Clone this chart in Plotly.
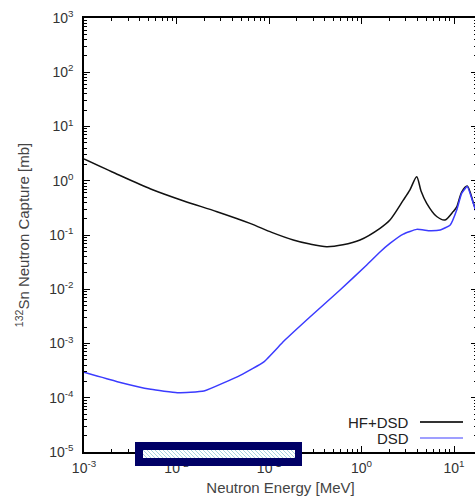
import plotly.graph_objects as go

# ---- data ----
energy_hf = [0.001, 0.00228, 0.00526, 0.012, 0.0274, 0.0624, 0.107, 0.183, 0.277,
             0.42, 0.63, 0.964, 1.585, 2.03, 2.83, 3.34, 3.95, 4.4, 5.07, 6.5,
             8.0, 9.8, 10.7, 12.1, 13.9, 16.2, 20.0]
sigma_hf = [2.52, 1.32, 0.705, 0.424, 0.269, 0.164, 0.112, 0.081, 0.068,
            0.0608, 0.066, 0.081, 0.133, 0.189, 0.44, 0.68, 1.19, 0.65, 0.384, 0.219,
            0.189, 0.27, 0.33, 0.62, 0.80, 0.39, 0.12]

energy_dsd = [0.001, 0.00229, 0.00527, 0.0102, 0.0198, 0.0494, 0.088, 0.145, 0.277,
              0.586, 1.14, 1.585, 2.03, 2.83, 3.95, 5.5, 7.1, 9.1, 10.7, 12.1,
              13.9, 16.2, 20.0]
sigma_dsd = [2.94e-4, 1.98e-4, 1.43e-4, 1.24e-4, 1.33e-4, 2.62e-4, 4.6e-4, 1.11e-3, 3.08e-3,
             9.7e-3, 0.028, 0.0487, 0.070, 0.104, 0.127, 0.12, 0.124, 0.153, 0.289, 0.587,
             0.78, 0.38, 0.12]

series_names = ["HF+DSD", "DSD"]
series_colors = ["#111111", "#3b3bff"]

x_tick_exps = [-3, -2, -1, 0, 1]
y_tick_exps = [-5, -4, -3, -2, -1, 0, 1, 2, 3]

FONT = "Liberation Sans, Arial, Helvetica, sans-serif"

def sup_labels(exps):
    return [f"10<sup>{e}</sup>" for e in exps]

def minor_vals(lo, hi):
    return [k * 10.0 ** n for n in range(lo, hi + 1) for k in range(2, 10)]

fig = go.Figure()
fig.add_trace(go.Scatter(x=energy_hf, y=sigma_hf, mode="lines", name=series_names[0],
                         line=dict(color=series_colors[0], width=1.5, shape="spline",
                                   smoothing=0.8), showlegend=False))
fig.add_trace(go.Scatter(x=energy_dsd, y=sigma_dsd, mode="lines", name=series_names[1],
                         line=dict(color=series_colors[1], width=1.5, shape="spline",
                                   smoothing=0.4), showlegend=False))

# figure slightly wider than the window so the right frame line falls just outside
W, H = 477, 502
L, T = 84, 18
plot_bottom = 452
B = H - plot_bottom
R = 0
pw = W - L - R
ph = H - T - B
decade_x = 92.5

x_max_exp = -3 + pw / decade_x

axis_common = dict(
    showgrid=False, zeroline=False, showline=True, linecolor="black", linewidth=1.5,
    ticks="inside", ticklen=6, tickwidth=1.2, tickcolor="black", mirror="allticks",
    tickfont=dict(family=FONT, size=14, color="#333333"),
)

fig.update_xaxes(
    type="log", range=[-3, x_max_exp], tickmode="array",
    tickvals=[10.0 ** e for e in x_tick_exps], ticktext=sup_labels(x_tick_exps),
    minor=dict(ticks="inside", ticklen=3, tickwidth=1, tickcolor="black",
               tickmode="array", tickvals=minor_vals(-3, 1), showgrid=False),
    ticklabelstandoff=2,
    title=dict(text="Neutron Energy [MeV]", standoff=8,
               font=dict(family=FONT, size=15, color="#444444")),
    **axis_common,
)
fig.update_yaxes(
    type="log", range=[-5, 3], tickmode="array",
    tickvals=[10.0 ** e for e in y_tick_exps], ticktext=sup_labels(y_tick_exps),
    minor=dict(ticks="inside", ticklen=3, tickwidth=1, tickcolor="black",
               tickmode="array", tickvals=minor_vals(-5, 2), showgrid=False),
    ticklabelstandoff=6,
    title=dict(text="<sup>132</sup>Sn Neutron Capture [mb]", standoff=16,
               font=dict(family=FONT, size=15, color="#444444")),
    **axis_common,
)

def px_x(p):
    return (p - L) / pw

def px_y(p):
    return (plot_bottom - p) / ph

shapes = []
# navy box over the lower axis
shapes.append(dict(type="rect", xref="paper", yref="paper", layer="above",
                   x0=px_x(135), x1=px_x(302), y0=px_y(466), y1=px_y(442),
                   fillcolor="#000066", line=dict(width=0)))
shapes.append(dict(type="rect", xref="paper", yref="paper", layer="above",
                   x0=px_x(143), x1=px_x(295), y0=px_y(458), y1=px_y(450),
                   fillcolor="white", line=dict(width=0)))
# hatching inside the box
ix0, ix1, iy0, iy1 = 143, 295, 450, 458
hh = iy1 - iy0
xs = ix0 - hh
while xs < ix1:
    xa, ya = xs, iy0
    xb, yb = xs + hh, iy1
    if xa < ix0:
        ya = iy0 + (ix0 - xa)
        xa = ix0
    if xb > ix1:
        yb = iy1 - (xb - ix1)
        xb = ix1
    if xb > xa:
        shapes.append(dict(type="line", xref="paper", yref="paper", layer="above",
                           x0=px_x(xa), x1=px_x(xb), y0=px_y(ya), y1=px_y(yb),
                           line=dict(color="#a9d3df", width=1)))
    xs += 4

# manual legend (text left of sample line)
legend_rows = [422, 438]
legend_line_colors = ["#333333", "#9f9fff"]
annotations = []
for name, row, col in zip(series_names, legend_rows, legend_line_colors):
    annotations.append(dict(xref="paper", yref="paper", x=px_x(411), y=px_y(row),
                            xanchor="right", yanchor="middle", showarrow=False,
                            text=name, font=dict(family=FONT, size=15, color="#222222")))
    shapes.append(dict(type="line", xref="paper", yref="paper", layer="above",
                       x0=px_x(420), x1=px_x(463), y0=px_y(row), y1=px_y(row),
                       line=dict(color=col, width=2)))

fig.update_layout(
    width=W, height=H,
    margin=dict(l=L, r=R, t=T, b=B, autoexpand=False),
    paper_bgcolor="white", plot_bgcolor="white",
    shapes=shapes, annotations=annotations,
    showlegend=False,
    font=dict(family=FONT),
)

page_fix = ("document.documentElement.style.margin='0';"
            "document.documentElement.style.overflow='hidden';"
            "document.body.style.margin='0';"
            "document.body.style.padding='0';"
            "document.body.style.overflow='hidden';")

fig.write_html("out.html", post_script=page_fix, config={"displayModeBar": False})
